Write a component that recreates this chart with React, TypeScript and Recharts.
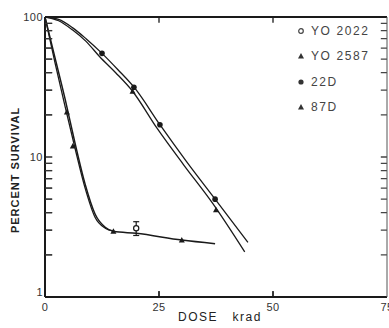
import React from 'react';
import { ComposedChart, Line, Scatter, XAxis, YAxis, Legend, ErrorBar } from 'recharts';

// haploid strains: steep drop, then a resistant tail
const yo2022Dose = [0, 2.2, 4.4, 6.6, 8.8, 11, 13.2, 15, 20, 30, 37.3];
const yo2022Surv = [100, 51, 26, 12.5, 6.4, 3.9, 3.15, 2.95, 2.85, 2.55, 2.4];
const yo2587Dose = [0, 2.2, 4.4, 6.6, 8.8, 11, 13.2, 15];
const yo2587Surv = [100, 47, 23, 11.5, 6, 3.7, 3.1, 2.95];

// diploid strains: shouldered curves
const d22Dose = [0, 3, 6, 9, 12.5, 16, 19.7, 25.2, 31, 37.3, 44.5];
const d22Surv = [100, 96, 84, 70, 55, 42, 31, 17, 9.3, 5.0, 2.46];
const d87Dose = [0, 3, 6, 9, 12, 15.5, 19.2, 24.6, 30.4, 36.7, 43.8];
const d87Surv = [100, 94, 81, 67, 52, 40, 29.5, 16, 8.8, 4.7, 2.1];

// plotted points
const yo2022PtDose = [20];
const yo2022PtSurv = [3.1];
const yo2022PtErr = [0.35];
const yo2587PtDose = [4.8, 6.1, 15, 30];
const yo2587PtSurv = [21, 12, 2.95, 2.55];
const d22PtDose = [12.5, 19.5, 25.2, 37.3];
const d22PtSurv = [55, 31.5, 17, 5.0];
const d87PtDose = [19.2, 37.5];
const d87PtSurv = [29.5, 4.2];

const legendNames = ['YO 2022', 'YO 2587', '22D', '87D'];
const xTicks = [0, 25, 50, 75];
const xInnerTicks = [25, 50];
const yTicks = [1, 2, 3, 4, 5, 6, 7, 8, 9, 10, 20, 30, 40, 50, 60, 70, 80, 90, 100];
const yInnerTicks = [2, 3, 4, 5, 6, 7, 8, 9, 10, 20, 30, 40, 50, 60, 70, 80, 90];
const yLabels = [1, 10, 100];
const xMin = 0;
const xMax = 75;
const yMin = 1;
const yMax = 100;
// inward tick lengths in axis units
const xTickLen = 1.6;
const yTickFactor = 1.1;

const toRows = (d: number[], v: number[], e?: number[]) =>
  d.map((x, i) => (e ? { d: x, v: v[i], e: [e[i], e[i]] } : { d: x, v: v[i] }));

// short segments separated by null gaps
const hTicks = (at: number, to: number) =>
  yInnerTicks.flatMap((v) => [{ d: at, v }, { d: to, v }, { d: to, v: null }]);
const vTicks = (at: number, to: number) =>
  xInnerTicks.flatMap((d) => [{ d, v: at }, { d, v: to }, { d, v: null }]);

const ink = '#1a1a1a';
const font = '"Liberation Sans", Arial, sans-serif';

// tick renderers also draw the inward mark next to the label
const LeftTick = (props: any) => {
  const { x, y, payload } = props;
  const ax = x + 2;
  return (
    <g>
      {!yLabels.includes(payload.value) && (
        <line x1={ax} x2={ax + 7} y1={y} y2={y} stroke="#333" strokeWidth={1.2} />
      )}
      {yLabels.includes(payload.value) && (
        <text x={x} y={y} dy={payload.value === 1 ? -1 : 4} textAnchor="end" fontSize={11} fill="#333" letterSpacing={0.5}>
          {payload.value}
        </text>
      )}
    </g>
  );
};

const BottomTick = (props: any) => {
  const { x, y, payload } = props;
  const ay = y - 6;
  return (
    <g>
      {xInnerTicks.includes(payload.value) && (
        <line x1={x} x2={x} y1={ay} y2={ay - 6} stroke={ink} strokeWidth={1.2} />
      )}
      <text x={x} y={y} dy={8} textAnchor="middle" fontSize={11} fill="#333" letterSpacing={0.5}>
        {payload.value}
      </text>
    </g>
  );
};

const openCircle = (p: any) => <circle cx={p.cx} cy={p.cy} r={2.6} fill="#fff" stroke={ink} strokeWidth={1.2} />;
const dotShape = (p: any) => <circle cx={p.cx} cy={p.cy} r={2.8} fill={ink} />;
const triShape = (p: any) => (
  <path d={`M${p.cx},${p.cy - 3} L${p.cx + 3},${p.cy + 2.5} L${p.cx - 3},${p.cy + 2.5} Z`} fill={ink} />
);

const legendMarks = [
  <circle cx={5} cy={6} r={2.3} fill="#fff" stroke="#444" strokeWidth={1.2} />,
  <path d="M5,3 L8,8.5 L2,8.5 Z" fill="#333" />,
  <circle cx={5} cy={6} r={2.6} fill="#333" />,
  <path d="M5,3 L8,8.5 L2,8.5 Z" fill="#333" />,
];

const renderLegend = () => (
  <div style={{ fontFamily: font }}>
    {legendNames.map((name, i) => (
      <div key={name} style={{ display: 'flex', alignItems: 'center', height: 25.5 }}>
        <svg width={10} height={12} style={{ marginRight: 5 }}>{legendMarks[i]}</svg>
        <span style={{ fontSize: 12, letterSpacing: 1.6, color: '#444' }}>{name}</span>
      </div>
    ))}
  </div>
);

const SurvivalChart: React.FC = () => {
  const tickRuns = [
    { key: 'left', data: hTicks(xMin, xMin + xTickLen), color: '#333' },
    { key: 'right', data: hTicks(xMax, xMax - xTickLen * 0.85), color: '#444' },
    { key: 'bottom', data: vTicks(yMin, yMin * yTickFactor), color: ink },
    { key: 'top', data: vTicks(yMax, yMax / yTickFactor), color: ink },
  ];

  return (
    <div style={{ position: 'fixed', left: 0, top: 0, width: 389, height: 328, background: '#fff', fontFamily: font }}>
      <ComposedChart width={389} height={328} margin={{ top: 16, right: 1, bottom: 9, left: 0 }}>
        <XAxis xAxisId="b" type="number" dataKey="d" domain={[xMin, xMax]} ticks={xTicks} allowDataOverflow interval={0}
          height={22} tickSize={0} tickMargin={6} tickLine={false}
          axisLine={{ stroke: ink, strokeWidth: 2 }} tick={<BottomTick />} />
        <XAxis xAxisId="t" orientation="top" type="number" domain={[xMin, xMax]} ticks={xTicks} allowDataOverflow interval={0}
          height={1} tickSize={0} tickLine={false} tick={false}
          axisLine={{ stroke: ink, strokeWidth: 2 }} />
        <YAxis yAxisId="l" scale="log" domain={[yMin, yMax]} ticks={yTicks} allowDataOverflow interval={0}
          width={45} tickSize={0} tickMargin={2} tickLine={false}
          axisLine={{ stroke: ink, strokeWidth: 2 }} tick={<LeftTick />} />
        <YAxis yAxisId="r" orientation="right" scale="log" domain={[yMin, yMax]} ticks={yTicks} allowDataOverflow interval={0}
          width={1} tickSize={0} tickLine={false} tick={false}
          axisLine={{ stroke: '#555', strokeWidth: 1 }} />

        {tickRuns.map((t) => (
          <Line key={t.key} xAxisId="b" yAxisId="l" data={t.data} dataKey="v" type="linear" connectNulls={false}
            stroke={t.color} strokeWidth={1.3} dot={false} activeDot={false} isAnimationActive={false} legendType="none" />
        ))}

        <Line xAxisId="b" yAxisId="l" data={toRows(yo2022Dose, yo2022Surv)} dataKey="v" type="monotone"
          stroke={ink} strokeWidth={1.5} dot={false} isAnimationActive={false} legendType="none" />
        <Line xAxisId="b" yAxisId="l" data={toRows(yo2587Dose, yo2587Surv)} dataKey="v" type="monotone"
          stroke={ink} strokeWidth={1.3} dot={false} isAnimationActive={false} legendType="none" />
        <Line xAxisId="b" yAxisId="l" data={toRows(d22Dose, d22Surv)} dataKey="v" type="monotone"
          stroke={ink} strokeWidth={1.3} dot={false} isAnimationActive={false} legendType="none" />
        <Line xAxisId="b" yAxisId="l" data={toRows(d87Dose, d87Surv)} dataKey="v" type="monotone"
          stroke={ink} strokeWidth={1.3} dot={false} isAnimationActive={false} legendType="none" />

        <Scatter xAxisId="b" yAxisId="l" data={toRows(yo2022PtDose, yo2022PtSurv, yo2022PtErr)} dataKey="v"
          shape={openCircle} isAnimationActive={false}>
          <ErrorBar dataKey="e" direction="y" width={3} stroke={ink} strokeWidth={1.2} />
        </Scatter>
        <Scatter xAxisId="b" yAxisId="l" data={toRows(yo2587PtDose, yo2587PtSurv)} dataKey="v"
          shape={triShape} isAnimationActive={false} />
        <Scatter xAxisId="b" yAxisId="l" data={toRows(d22PtDose, d22PtSurv)} dataKey="v"
          shape={dotShape} isAnimationActive={false} />
        <Scatter xAxisId="b" yAxisId="l" data={toRows(d87PtDose, d87PtSurv)} dataKey="v"
          shape={triShape} isAnimationActive={false} />

        <Legend layout="horizontal" verticalAlign="middle" align="center" content={renderLegend}
          wrapperStyle={{ top: 18, left: 296, width: 92 }} />
      </ComposedChart>
      <div style={{ position: 'absolute', left: 15, top: 170, transform: 'translate(-50%, -50%) rotate(-90deg)',
        fontSize: 11, letterSpacing: 1, color: '#222', whiteSpace: 'nowrap', fontWeight: 600 }}>
        PERCENT SURVIVAL
      </div>
      <div style={{ position: 'absolute', left: 178, top: 310, fontSize: 12, letterSpacing: 1.5, color: '#222', whiteSpace: 'nowrap' }}>
        DOSE&nbsp;&nbsp;&nbsp;krad
      </div>
    </div>
  );
};

export default function App() {
  return <SurvivalChart />;
}
